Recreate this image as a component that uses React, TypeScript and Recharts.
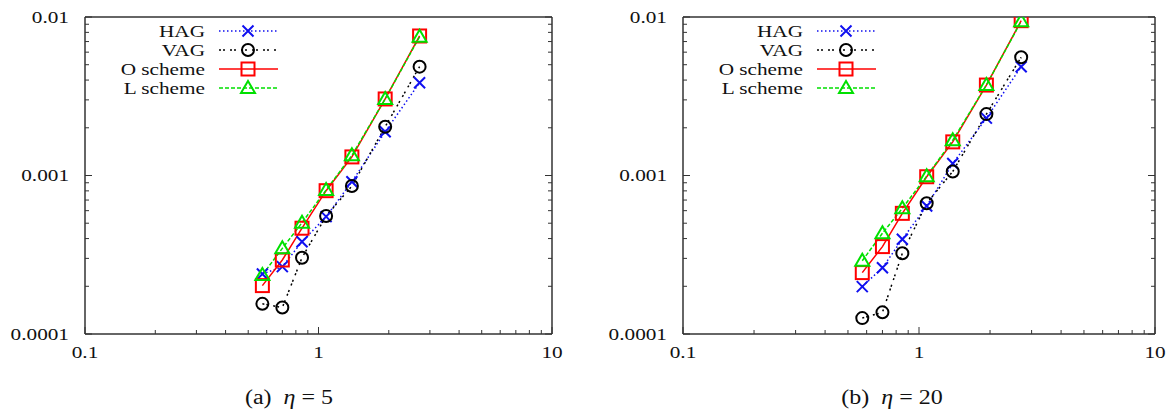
import { LineChart, Line, XAxis, YAxis, Legend } from 'recharts';

// mesh size h (same for both panels)
const H = [0.575, 0.7, 0.85, 1.078, 1.39, 1.93, 2.71];

// eta = 5
const HAG_5 = [2.39e-4, 2.66e-4, 3.82e-4, 5.5e-4, 9.14e-4, 1.89e-3, 3.85e-3];
const VAG_5 = [1.55e-4, 1.47e-4, 3.03e-4, 5.55e-4, 8.59e-4, 2.03e-3, 4.86e-3];
const O_5 = [2.02e-4, 2.93e-4, 4.65e-4, 8.02e-4, 1.31e-3, 3.04e-3, 7.59e-3];
const L_5 = [2.36e-4, 3.47e-4, 5.04e-4, 8.1e-4, 1.34e-3, 3.04e-3, 7.5e-3];

// eta = 20
const HAG_20 = [1.99e-4, 2.62e-4, 3.96e-4, 6.42e-4, 1.19e-3, 2.3e-3, 4.86e-3];
const VAG_20 = [1.26e-4, 1.37e-4, 3.23e-4, 6.68e-4, 1.06e-3, 2.44e-3, 5.57e-3];
const O_20 = [2.44e-4, 3.56e-4, 5.77e-4, 9.82e-4, 1.63e-3, 3.72e-3, 9.48e-3];
const L_20 = [2.9e-4, 4.32e-4, 6.21e-4, 9.9e-4, 1.67e-3, 3.72e-3, 9.4e-3];

const X_TICKS = [0.1, 0.2, 0.3, 0.4, 0.5, 0.6, 0.7, 0.8, 0.9, 1, 2, 3, 4, 5, 6, 7, 8, 9, 10];
const Y_TICKS = [
  0.0001, 0.0002, 0.0003, 0.0004, 0.0005, 0.0006, 0.0007, 0.0008, 0.0009,
  0.001, 0.002, 0.003, 0.004, 0.005, 0.006, 0.007, 0.008, 0.009, 0.01,
];
const X_LABELS: Record<string, string> = { '0.1': '0.1', '1': '1', '10': '10' };
const Y_LABELS: Record<string, string> = { '0.0001': '0.0001', '0.001': '0.001', '0.01': '0.01' };

const SERIES = [
  { key: 'hag', name: 'HAG', color: '#1010f0', dash: '1.5 2.5', marker: 'cross' },
  { key: 'vag', name: 'VAG', color: '#000000', dash: '2 2 2 5', marker: 'circle' },
  { key: 'o', name: 'O scheme', color: '#ff0000', dash: undefined, marker: 'square' },
  { key: 'l', name: 'L scheme', color: '#00e000', dash: '4 2', marker: 'triangle' },
];

const FONT = '"Liberation Serif", "Times New Roman", serif';
const AXIS = '#333';
const STRETCH = 1.25;

function Marker({ kind, cx, cy, color }: any) {
  if (cx == null || cy == null) return null;
  switch (kind) {
    case 'cross':
      return (
        <path
          d={`M${cx - 5.5},${cy - 5.5}L${cx + 5.5},${cy + 5.5}M${cx - 5.5},${cy + 5.5}L${cx + 5.5},${cy - 5.5}`}
          stroke={color}
          strokeWidth={2}
          fill="none"
        />
      );
    case 'circle':
      return <circle cx={cx} cy={cy} r={6} fill="none" stroke={color} strokeWidth={2} />;
    case 'square':
      return <rect x={cx - 6.5} y={cy - 6.5} width={13} height={13} fill="none" stroke={color} strokeWidth={2} />;
    default:
      return (
        <path d={`M${cx},${cy - 7}L${cx + 7},${cy + 5}L${cx - 7},${cy + 5}Z`} fill="none" stroke={color} strokeWidth={2} />
      );
  }
}

function tickLabel(x: number, y: number, text: string, anchor: string) {
  return (
    <text
      transform={`translate(${x},${y}) scale(${STRETCH},1)`}
      textAnchor={anchor}
      fontFamily={FONT}
      fontSize={17}
      fill="#111"
    >
      {text}
    </text>
  );
}

function BottomTick({ x, y, payload }: any) {
  const label = X_LABELS[String(payload.value)];
  const len = label ? 7 : 4;
  return (
    <g>
      <line x1={x} x2={x} y1={y} y2={y - len} stroke={AXIS} />
      {label && tickLabel(x, y + 24, label, 'middle')}
    </g>
  );
}

function TopTick({ x, y, payload }: any) {
  const len = X_LABELS[String(payload.value)] ? 7 : 4;
  return <line x1={x} x2={x} y1={y} y2={y + len} stroke={AXIS} />;
}

function LeftTick({ x, y, payload }: any) {
  const label = Y_LABELS[String(payload.value)];
  const len = label ? 7 : 4;
  return (
    <g>
      <line x1={x} x2={x + len} y1={y} y2={y} stroke={AXIS} />
      {label && tickLabel(x - 16, y + 5.5, label, 'end')}
    </g>
  );
}

function RightTick({ x, y, payload }: any) {
  const len = Y_LABELS[String(payload.value)] ? 7 : 4;
  return <line x1={x} x2={x - len} y1={y} y2={y} stroke={AXIS} />;
}

function LegendBox({ plotLeft }: { plotLeft: number }) {
  return (
    <svg width={320} height={100} style={{ display: 'block' }}>
      {SERIES.map((s, i) => {
        const y = 31 + i * 19;
        return (
          <g key={s.key}>
            {tickLabel(plotLeft + 120, y + 5.5, s.name, 'end')}
            <line
              x1={plotLeft + 134}
              x2={plotLeft + 193}
              y1={y}
              y2={y}
              stroke={s.color}
              strokeWidth={1.5}
              strokeDasharray={s.dash}
            />
            <Marker kind={s.marker} cx={plotLeft + 163} cy={y} color={s.color} />
          </g>
        );
      })}
    </svg>
  );
}

interface PanelProps {
  hag: number[];
  vag: number[];
  o: number[];
  l: number[];
  width: number;
  yAxisWidth: number;
  marginRight: number;
}

function Panel({ hag, vag, o, l, width, yAxisWidth, marginRight }: PanelProps) {
  const data = H.map((h, i) => ({ h, hag: hag[i], vag: vag[i], o: o[i], l: l[i] }));
  const axisLine = { stroke: AXIS, strokeWidth: 1.5 };

  return (
    <LineChart width={width} height={370} data={data} margin={{ top: 16, right: marginRight, bottom: 0, left: 0 }}>
      <XAxis
        xAxisId="bottom"
        dataKey="h"
        type="number"
        scale="log"
        domain={[0.1, 10]}
        allowDataOverflow
        ticks={X_TICKS}
        interval={0}
        tick={(p: any) => <BottomTick {...p} />}
        tickLine={false}
        tickSize={0}
        tickMargin={0}
        axisLine={axisLine}
        height={36}
      />
      <XAxis
        xAxisId="top"
        orientation="top"
        type="number"
        scale="log"
        domain={[0.1, 10]}
        allowDataOverflow
        ticks={X_TICKS}
        interval={0}
        tick={(p: any) => <TopTick {...p} />}
        tickLine={false}
        tickSize={0}
        tickMargin={0}
        axisLine={axisLine}
        height={1}
      />
      <YAxis
        yAxisId="left"
        type="number"
        scale="log"
        domain={[0.0001, 0.01]}
        allowDataOverflow
        ticks={Y_TICKS}
        interval={0}
        tick={(p: any) => <LeftTick {...p} />}
        tickLine={false}
        tickSize={0}
        tickMargin={0}
        axisLine={axisLine}
        width={yAxisWidth}
      />
      <YAxis
        yAxisId="right"
        orientation="right"
        type="number"
        scale="log"
        domain={[0.0001, 0.01]}
        allowDataOverflow
        ticks={Y_TICKS}
        interval={0}
        tick={(p: any) => <RightTick {...p} />}
        tickLine={false}
        tickSize={0}
        tickMargin={0}
        axisLine={axisLine}
        width={1}
      />
      {SERIES.map((s) => (
        <Line
          key={s.key}
          xAxisId="bottom"
          yAxisId="left"
          dataKey={s.key}
          name={s.name}
          stroke={s.color}
          strokeWidth={1.5}
          strokeDasharray={s.dash}
          dot={(p: any) => <Marker key={`${s.key}-${p.index}`} kind={s.marker} cx={p.cx} cy={p.cy} color={s.color} />}
          isAnimationActive={false}
        />
      ))}
      <Legend
        layout="horizontal"
        verticalAlign="middle"
        content={() => <LegendBox plotLeft={yAxisWidth} />}
        wrapperStyle={{ left: 0, top: 0, width: 320, height: 100 }}
      />
    </LineChart>
  );
}

function Caption({ center, tag, value }: { center: number; tag: string; value: string }) {
  return (
    <div
      style={{
        position: 'absolute',
        left: center - 100,
        width: 200,
        top: 386,
        textAlign: 'center',
        fontFamily: FONT,
        fontSize: 20,
        color: '#111',
        transform: 'scaleX(1.2)',
        whiteSpace: 'pre',
      }}
    >
      {tag}
      {'\u00a0\u00a0'}
      <i>η</i>
      {'\u00a0=\u00a0'}
      {value}
    </div>
  );
}

export default function App() {
  return (
    <div style={{ position: 'absolute', left: 0, top: 0, width: 1172, height: 411, background: '#fff', overflow: 'hidden' }}>
      <div style={{ position: 'absolute', left: 0, top: 0 }}>
        <Panel hag={HAG_5} vag={VAG_5} o={O_5} l={L_5} width={580} yAxisWidth={85} marginRight={27} />
      </div>
      <div style={{ position: 'absolute', left: 590, top: 0 }}>
        <Panel hag={HAG_20} vag={VAG_20} o={O_20} l={L_20} width={582} yAxisWidth={93} marginRight={16} />
      </div>
      <Caption center={289} tag="(a)" value="5" />
      <Caption center={892} tag="(b)" value="20" />
    </div>
  );
}
